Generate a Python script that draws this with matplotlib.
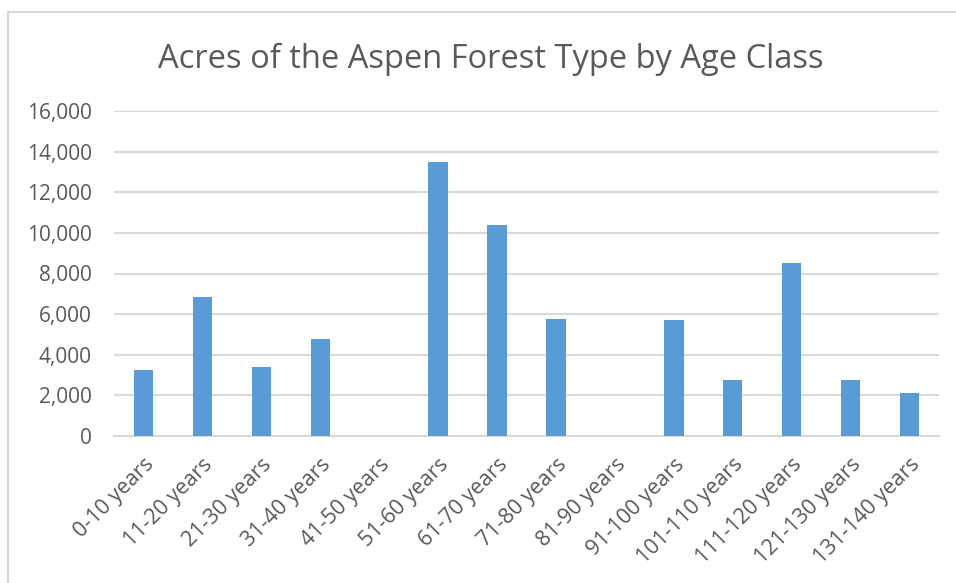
import numpy as np
import matplotlib
matplotlib.use("Agg")
import matplotlib.pyplot as plt
from matplotlib.patches import Rectangle
from matplotlib.ticker import FuncFormatter

# Data
age_classes = ["0-10 years", "11-20 years", "21-30 years", "31-40 years",
               "41-50 years", "51-60 years", "61-70 years", "71-80 years",
               "81-90 years", "91-100 years", "101-110 years", "111-120 years",
               "121-130 years", "131-140 years"]
acres = [3260, 6860, 3380, 4760, 0, 13480, 10370, 5780,
         0, 5710, 2760, 8500, 2760, 2120]
y_ticks = [0, 2000, 4000, 6000, 8000, 10000, 12000, 14000, 16000]

text_color = "#595959"
grid_color = "#d9d9d9"
bar_color = "#5b9bd5"

plt.rcParams["font.family"] = ["Open Sans", "DejaVu Sans"]

fig = plt.figure(figsize=(9.56, 5.83), dpi=100)

# Light grey chart frame (cropped screenshot: frame runs off right and bottom)
fig.patches.append(Rectangle((8 / 956, -0.05), 1.2, 1 - 12 / 583 + 0.05,
                             transform=fig.transFigure, fill=False,
                             edgecolor=grid_color, linewidth=1.5))

ax = fig.add_axes([114 / 956, 1 - 436 / 583, (939 - 114) / 956, (436 - 111) / 583])

x = np.arange(len(age_classes))
ax.bar(x, acres, width=0.33, color=bar_color, zorder=3)

ax.set_xlim(-0.5, len(age_classes) - 0.5)
ax.set_ylim(0, 16000)
ax.set_yticks(y_ticks)
ax.yaxis.set_major_formatter(FuncFormatter(lambda v, p: f"{int(v):,}"))
ax.grid(axis="y", color=grid_color, linewidth=1.5, zorder=0)

for side in ["top", "right", "left"]:
    ax.spines[side].set_visible(False)
ax.spines["bottom"].set_color(grid_color)
ax.spines["bottom"].set_linewidth(1.5)

ax.tick_params(axis="y", length=0, pad=16, labelsize=15, labelcolor=text_color)
ax.tick_params(axis="x", length=0, pad=13, labelsize=15.5, labelcolor=text_color)
ax.set_xticks(x)
ax.set_xticklabels(age_classes, rotation=45, ha="right", rotation_mode="anchor")

fig.text(491 / 956, 1 - 68 / 583, "Acres of the Aspen Forest Type by Age Class",
         ha="center", va="baseline", fontsize=23.5, color=text_color)

fig.savefig("out.png", dpi=100)
